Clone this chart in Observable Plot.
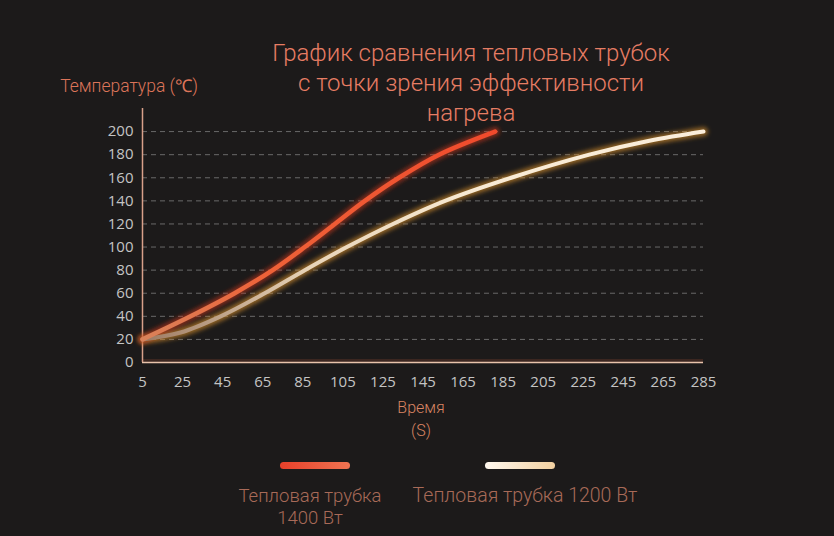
<!DOCTYPE html>
<html><head><meta charset="utf-8">
<script src="https://cdn.jsdelivr.net/npm/d3@7"></script>
<script src="https://cdn.jsdelivr.net/npm/@observablehq/plot@0.6"></script>
<style>
html,body{margin:0;padding:0;background:#1c1a1a;}
#wrap{position:relative;width:834px;height:536px;background:#1c1a1a;overflow:hidden;font-family:Roboto,"Open Sans",sans-serif;}
.t{position:absolute;white-space:nowrap;transform:translateX(-50%);text-align:center;}
.title{color:#e77d64;font-weight:300;font-size:24px;line-height:30px;top:38px;left:471px;}
.ylab{color:#dc7459;font-weight:300;font-size:17.5px;top:73px;left:129px;}
.xlab{color:#d98463;font-weight:300;font-size:16px;line-height:23px;top:396px;left:421px;}
.sw{position:absolute;height:7px;border-radius:4px;top:462px;width:70px;}
.leg{color:#a86a58;font-weight:300;font-size:18.5px;line-height:22px;top:485px;}
</style></head><body>
<div id="wrap"></div>
<script>
// 1400 W heat pipe
const times1400 = [5, 29, 51, 70, 86, 101, 116, 133, 153, 181];
const temps1400 = [20, 40, 60, 80, 100, 120, 140, 160, 180, 200];
// 1200 W heat pipe
const times1200 = [5, 24, 44, 66, 86, 107, 130, 156, 189, 228, 258, 285];
const temps1200 = [20, 26, 40, 60, 80, 100, 120, 140, 160, 180, 192, 200];
// ticks
const xTicks = [5, 25, 45, 65, 85, 105, 125, 145, 165, 185, 205, 225, 245, 265, 285];
const yTicks = [0, 20, 40, 60, 80, 100, 120, 140, 160, 180, 200];
const gridTicks = yTicks.filter(d => d > 0);

const titleLines = ["График сравнения тепловых трубок", "с точки зрения эффективности", "нагрева"];
const yLabel = "Температура (℃)";
const xLabelLines = ["Время", "(S)"];
const legendNames = ["Тепловая трубка<br>1400 Вт", "Тепловая трубка 1200 Вт"];

const d1400 = times1400.map((t, i) => ({t, v: temps1400[i]}));
const d1200 = times1200.map((t, i) => ({t, v: temps1200[i]}));

const chart = Plot.plot({
  width: 834,
  height: 536,
  marginLeft: 142,
  marginRight: 131,
  marginTop: 108,
  marginBottom: 174,
  style: {background: "#1c1a1a", color: "#c4c4c4", fontSize: "15px", fontFamily: "'Open Sans', sans-serif"},
  x: {domain: [5, 285], label: null},
  y: {domain: [0, 220], label: null},
  marks: [
    Plot.gridY(gridTicks, {stroke: "#8a8a8a", strokeOpacity: 0.7, strokeDasharray: "5,4", strokeWidth: 1}),
    Plot.ruleY([0], {stroke: "#3b2620", strokeWidth: 3, dy: -2}),
    Plot.ruleY([0], {stroke: "#e8c3ab", strokeWidth: 1.5}),
    Plot.ruleX([5], {y1: 0, y2: 220, stroke: "#d8a08a", strokeWidth: 1.5}),
    Plot.axisY(yTicks, {tickSize: 0, tickPadding: 9, fontSize: 15, label: null}),
    Plot.axisX(xTicks, {tickSize: 0, tickPadding: 14, fontSize: 15, label: null}),
    Plot.line(d1200, {x: "t", y: "v", curve: "catmull-rom", stroke: "#e0952e", strokeWidth: 9, strokeOpacity: 0.6, strokeLinecap: "round"}),
    Plot.line(d1400, {x: "t", y: "v", curve: "catmull-rom", stroke: "#c8361c", strokeWidth: 9, strokeOpacity: 0.6, strokeLinecap: "round"}),
    Plot.line(d1200, {x: "t", y: "v", curve: "catmull-rom", stroke: "url(#g1200)", strokeWidth: 4, strokeLinecap: "round"}),
    Plot.line(d1400, {x: "t", y: "v", curve: "catmull-rom", stroke: "url(#g1400)", strokeWidth: 4.5, strokeLinecap: "round"})
  ]
});

const defs = document.createElementNS("http://www.w3.org/2000/svg", "defs");
defs.innerHTML = `
<linearGradient id="g1400" x1="0" y1="0" x2="1" y2="0">
  <stop offset="0" stop-color="#d9825a"/>
  <stop offset="0.35" stop-color="#ee6238"/>
  <stop offset="1" stop-color="#f04a2c"/>
</linearGradient>
<linearGradient id="g1200" x1="0" y1="0" x2="1" y2="0">
  <stop offset="0" stop-color="#9c7a62"/>
  <stop offset="0.3" stop-color="#e8d4b8"/>
  <stop offset="0.6" stop-color="#f8ead4"/>
  <stop offset="1" stop-color="#fbeedb"/>
</linearGradient>
<filter id="blur" filterUnits="userSpaceOnUse" x="0" y="0" width="834" height="536">
  <feGaussianBlur stdDeviation="2.2"/>
</filter>`;
chart.insertBefore(defs, chart.firstChild);
const lineGroups = chart.querySelectorAll('g[aria-label="line"]');
if (lineGroups.length >= 2) {
  lineGroups[0].setAttribute("filter", "url(#blur)");
  lineGroups[1].setAttribute("filter", "url(#blur)");
}
chart.style.position = "absolute";
chart.style.left = "0";
chart.style.top = "0";

const wrap = document.getElementById("wrap");
wrap.appendChild(chart);

function addDiv(cls, html, extra) {
  const d = document.createElement("div");
  d.className = cls;
  d.innerHTML = html;
  if (extra) Object.assign(d.style, extra);
  wrap.appendChild(d);
  return d;
}
addDiv("t title", titleLines.join("<br>"));
addDiv("t ylab", yLabel);
addDiv("t xlab", xLabelLines.join("<br>"));
addDiv("sw", "", {left: "280px", background: "linear-gradient(90deg,#e8402a,#f07452)"});
addDiv("sw", "", {left: "485px", background: "linear-gradient(90deg,#fff8ee,#f2d0a0)"});
addDiv("t leg", legendNames[0], {left: "310px"});
addDiv("t leg", legendNames[1], {left: "525px", fontSize: "19.5px"});
</script>
</body></html>
